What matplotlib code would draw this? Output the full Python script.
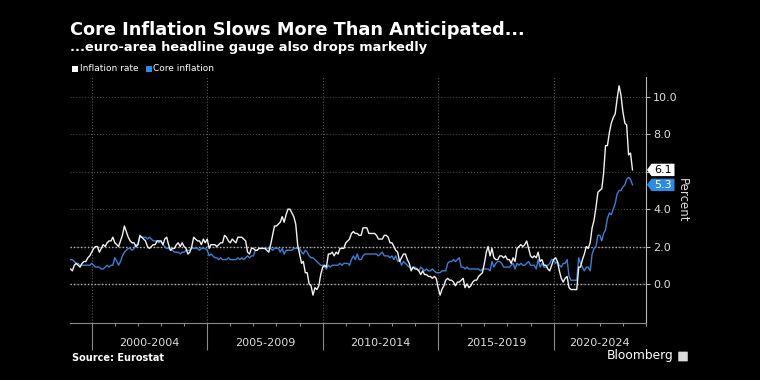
import pandas as pd
import matplotlib.pyplot as plt
import matplotlib.dates as mdates
import matplotlib.transforms as mtransforms
from matplotlib.patches import Polygon, Rectangle, FancyBboxPatch

# euro-area HICP, y/y %, monthly Jan 1999 - May 2023
headline = [
    0.8, 0.7, 1.0, 1.1, 1.0, 0.9, 1.1, 1.2, 1.2, 1.4, 1.5, 1.7,
    1.9, 2.0, 2.0, 1.7, 1.9, 2.1, 2.0, 2.2, 2.3, 2.3, 2.5, 2.2,
    2.1, 2.0, 2.3, 2.6, 3.1, 2.8, 2.5, 2.3, 2.2, 2.2, 2.0, 2.1,
    2.6, 2.5, 2.4, 2.3, 2.0, 1.9, 2.0, 2.1, 2.1, 2.3, 2.3, 2.3,
    2.1, 2.4, 2.5, 2.1, 1.8, 1.9, 1.9, 2.1, 2.2, 2.0, 2.2, 2.0,
    1.9, 1.6, 1.7, 2.0, 2.5, 2.4, 2.3, 2.3, 2.1, 2.4, 2.2, 2.4,
    1.9, 2.1, 2.1, 2.1, 2.0, 2.1, 2.2, 2.2, 2.6, 2.5, 2.3, 2.2,
    2.4, 2.3, 2.2, 2.5, 2.5, 2.5, 2.4, 2.3, 1.7, 1.6, 1.9, 1.9,
    1.8, 1.8, 1.9, 1.9, 1.9, 1.9, 1.8, 1.7, 2.1, 2.6, 3.1, 3.1,
    3.2, 3.3, 3.6, 3.3, 3.7, 4.0, 4.0, 3.8, 3.6, 3.2, 2.1, 1.6,
    1.1, 1.2, 0.6, 0.6, 0.0, -0.1, -0.6, -0.2, -0.3, -0.1, 0.5, 0.9,
    1.0, 0.9, 1.6, 1.6, 1.7, 1.5, 1.7, 1.6, 1.9, 1.9, 1.9, 2.2,
    2.3, 2.4, 2.7, 2.8, 2.7, 2.7, 2.6, 2.6, 3.0, 3.0, 3.0, 2.7,
    2.7, 2.7, 2.7, 2.6, 2.4, 2.4, 2.4, 2.6, 2.6, 2.5, 2.2, 2.2,
    2.0, 1.8, 1.7, 1.2, 1.4, 1.6, 1.6, 1.3, 1.1, 0.7, 0.9, 0.8,
    0.8, 0.7, 0.5, 0.7, 0.5, 0.5, 0.4, 0.4, 0.3, 0.4, 0.3, -0.2,
    -0.6, -0.3, -0.1, 0.2, 0.3, 0.2, 0.2, 0.1, -0.1, 0.1, 0.1, 0.2,
    0.3, -0.2, 0.0, -0.2, -0.1, 0.1, 0.2, 0.2, 0.4, 0.5, 0.6, 1.1,
    1.7, 2.0, 1.5, 1.9, 1.4, 1.3, 1.3, 1.5, 1.5, 1.4, 1.5, 1.3,
    1.3, 1.1, 1.4, 1.2, 1.9, 2.0, 2.1, 2.0, 2.1, 2.3, 1.9, 1.5,
    1.4, 1.5, 1.4, 1.7, 1.2, 1.3, 1.0, 1.0, 0.8, 0.7, 1.0, 1.3,
    1.4, 1.2, 0.7, 0.3, 0.1, 0.3, 0.4, -0.2, -0.3, -0.3, -0.3, -0.3,
    0.9, 0.9, 1.3, 1.6, 2.0, 1.9, 2.2, 3.0, 3.4, 4.1, 4.9, 5.0,
    5.1, 5.9, 7.4, 7.4, 8.1, 8.6, 8.9, 9.1, 9.9, 10.6, 10.1, 9.2,
    8.6, 8.5, 6.9, 7.0, 6.1,
]
core = [
    1.3, 1.3, 1.2, 1.1, 1.1, 1.0, 1.0, 1.0, 1.0, 1.0, 1.0, 1.1,
    1.0, 0.9, 0.9, 0.9, 0.8, 0.8, 0.9, 1.0, 0.9, 1.0, 1.0, 1.4,
    1.2, 1.0, 1.2, 1.5, 1.7, 1.8, 1.9, 1.9, 1.8, 1.9, 2.1, 2.1,
    2.5, 2.5, 2.5, 2.5, 2.4, 2.5, 2.4, 2.3, 2.3, 2.3, 2.2, 2.3,
    2.1, 2.0, 1.9, 1.9, 1.8, 1.8, 1.7, 1.7, 1.7, 1.6, 1.7, 1.7,
    1.8, 1.8, 1.8, 1.9, 1.9, 1.9, 1.9, 1.8, 1.9, 1.9, 1.9, 1.8,
    1.5, 1.6, 1.5, 1.4, 1.4, 1.3, 1.4, 1.3, 1.3, 1.3, 1.4, 1.3,
    1.3, 1.3, 1.3, 1.4, 1.3, 1.4, 1.3, 1.4, 1.5, 1.4, 1.5, 1.5,
    1.8, 1.8, 1.9, 1.9, 1.9, 1.9, 1.9, 1.9, 1.9, 1.8, 1.9, 1.9,
    1.9, 1.7, 1.9, 1.6, 1.8, 1.8, 1.8, 1.8, 1.9, 1.9, 1.9, 1.9,
    1.7, 1.6, 1.8, 1.7, 1.5, 1.4, 1.4, 1.3, 1.2, 1.1, 1.0, 1.0,
    0.9, 0.8, 1.0, 0.9, 1.0, 1.0, 1.0, 1.0, 1.1, 1.0, 1.1, 1.1,
    1.1, 1.0, 1.3, 1.5, 1.3, 1.6, 1.3, 1.3, 1.5, 1.6, 1.6, 1.6,
    1.6, 1.6, 1.6, 1.6, 1.5, 1.6, 1.7, 1.5, 1.5, 1.5, 1.4, 1.5,
    1.3, 1.5, 1.2, 1.3, 1.0, 1.2, 1.1, 1.0, 0.9, 0.8, 0.9, 0.9,
    0.8, 0.7, 0.9, 0.8, 0.7, 0.8, 0.7, 0.7, 0.8, 0.7, 0.6, 0.6,
    0.6, 0.7, 0.7, 0.7, 1.1, 1.2, 1.2, 1.3, 1.2, 1.3, 1.4, 0.9,
    0.9, 0.8, 0.9, 0.8, 0.8, 0.8, 0.8, 0.8, 0.8, 0.7, 0.8, 0.8,
    0.8, 0.8, 0.7, 1.2, 0.9, 1.1, 1.2, 1.2, 1.1, 0.9, 0.9, 0.9,
    0.9, 1.0, 1.1, 0.8, 1.1, 1.0, 1.1, 1.0, 1.0, 1.1, 1.2, 1.0,
    1.0, 1.0, 0.8, 1.3, 0.9, 1.1, 0.9, 0.9, 1.0, 1.1, 1.3, 1.3,
    1.1, 1.2, 1.0, 0.9, 1.1, 1.1, 1.3, 0.4, 0.2, 0.2, 0.2, 0.2,
    1.4, 1.1, 0.9, 0.7, 0.9, 0.9, 0.7, 1.6, 1.9, 2.0, 2.6, 2.6,
    2.3, 2.7, 2.9, 3.5, 3.8, 3.7, 4.0, 4.3, 4.8, 5.0, 5.0, 5.2,
    5.3, 5.6, 5.7, 5.6, 5.3,
]
period_labels = ["2000-2004", "2005-2009", "2010-2014", "2015-2019", "2020-2024"]
period_starts = [2000, 2005, 2010, 2015, 2020]
y_ticks = [0, 2, 4, 6, 8, 10]

# each month is drawn at its month end
dates = pd.date_range("1999-02-01", periods=len(headline), freq="MS")

W, H = 760, 380
WHITE = "#f2f2f2"
BLUE = "#3b7fd4"
BOX_BLUE = "#2e8be4"
GREY = "#8a8a8a"

def fx(px):
    return px / W

def fy(py):
    return 1 - py / H

fig = plt.figure(figsize=(7.6, 3.8), dpi=100, facecolor="black")
ax = fig.add_axes([fx(70), fy(323), fx(646) - fx(70), fy(77) - fy(323)])
ax.set_facecolor("black")

ax.plot(dates, headline, color=WHITE, lw=1.0, zorder=4)
ax.plot(dates, core, color=BLUE, lw=1.0, zorder=3)

ax.set_xlim(pd.Timestamp("1999-01-23"), pd.Timestamp("2024-01-01"))
ax.set_ylim(-2.09, 11.07)

# axes / ticks
for s in ["left", "top"]:
    ax.spines[s].set_visible(False)
ax.spines["right"].set_color("#bbbbbb")
ax.spines["bottom"].set_color(GREY)
ax.yaxis.tick_right()
ax.set_yticks(y_ticks)
# 6.0 sits under the last-value tag
ax.set_yticklabels(["" if v == 6 else f"{v:.1f}" for v in y_ticks])
ax.tick_params(axis="y", colors="#bbbbbb", labelcolor="#dddddd", labelsize=8,
               length=3, width=0.8, pad=2)
ax.xaxis.set_major_locator(mdates.YearLocator(5))
ax.xaxis.set_minor_locator(mdates.YearLocator(1))
ax.tick_params(axis="x", which="major", length=19.5, width=0.8, colors=GREY,
               labelbottom=False)
ax.tick_params(axis="x", which="minor", length=2.2, width=0.8, colors=GREY)

ax.grid(axis="x", which="major", color="#5a5a5a", ls=":", lw=0.8)
ax.grid(axis="y", color="#4a4a4a", ls=":", lw=0.8)
for v in [0, 2]:
    ax.axhline(v, color="#b0b0b0", ls=(0, (1, 1.5)), lw=1.0, zorder=2)

ax.yaxis.set_label_position("right")
ax.set_ylabel("Percent", rotation=270, color="#dddddd", fontsize=8.5, labelpad=8)

# period labels under axis
xt = ax.get_xaxis_transform()
x_end = 2024.0
for lab, y0 in zip(period_labels, period_starts):
    mid = (y0 + min(y0 + 5, x_end)) / 2
    d = pd.Timestamp(int(mid), 1, 1) + pd.Timedelta(days=365.25 * (mid - int(mid)))
    ax.text(d, -0.081, lab, transform=xt, ha="center", va="center",
            color="#dddddd", fontsize=8)

# last value tags
blend = mtransforms.blended_transform_factory(ax.transAxes, ax.transData)
for val, face, txt_col in [(headline[-1], "white", "black"), (core[-1], BOX_BLUE, "white")]:
    t = fig.dpi_scale_trans + mtransforms.ScaledTranslation(1.0, val, blend)
    h = 0.062
    poly = Polygon([(0.01, 0), (0.055, h), (0.285, h), (0.285, -h), (0.055, -h)],
                   closed=True, transform=t, facecolor=face, edgecolor="none",
                   clip_on=False, zorder=6)
    ax.add_artist(poly)
    ax.text(0.17, 0, f"{val:.1f}", transform=t, ha="center", va="center",
            color=txt_col, fontsize=8, zorder=7)

# titles
fig.text(fx(70), fy(30), "Core Inflation Slows More Than Anticipated...",
         color="white", fontsize=12.8, fontweight="bold", va="center", ha="left")
fig.text(fx(70), fy(48), "...euro-area headline gauge also drops markedly",
         color="white", fontsize=9.4, fontweight="bold", va="center", ha="left")

# legend
fig.add_artist(Rectangle((fx(72), fy(72)), fx(6), 6 / H, transform=fig.transFigure,
                         facecolor="white", edgecolor="none"))
fig.text(fx(80), fy(68.5), "Inflation rate", color="white", fontsize=6.5,
         va="center", ha="left")
fig.add_artist(Rectangle((fx(146), fy(72)), fx(6), 6 / H, transform=fig.transFigure,
                         facecolor=BOX_BLUE, edgecolor="none"))
fig.text(fx(153), fy(68.5), "Core inflation", color="white", fontsize=6.5,
         va="center", ha="left")

# footer
fig.text(fx(72), fy(358), "Source: Eurostat", color="white", fontsize=7,
         fontweight="bold", va="center", ha="left")
fig.text(fx(673), fy(356), "Bloomberg", color="white", fontsize=8.8,
         va="center", ha="right")
fig.add_artist(FancyBboxPatch((fx(679), fy(361)), fx(8), 9 / H,
                              boxstyle="round,pad=0.001", transform=fig.transFigure,
                              facecolor="#dddddd", edgecolor="none"))

fig.savefig("out.png", dpi=100, facecolor="black")
